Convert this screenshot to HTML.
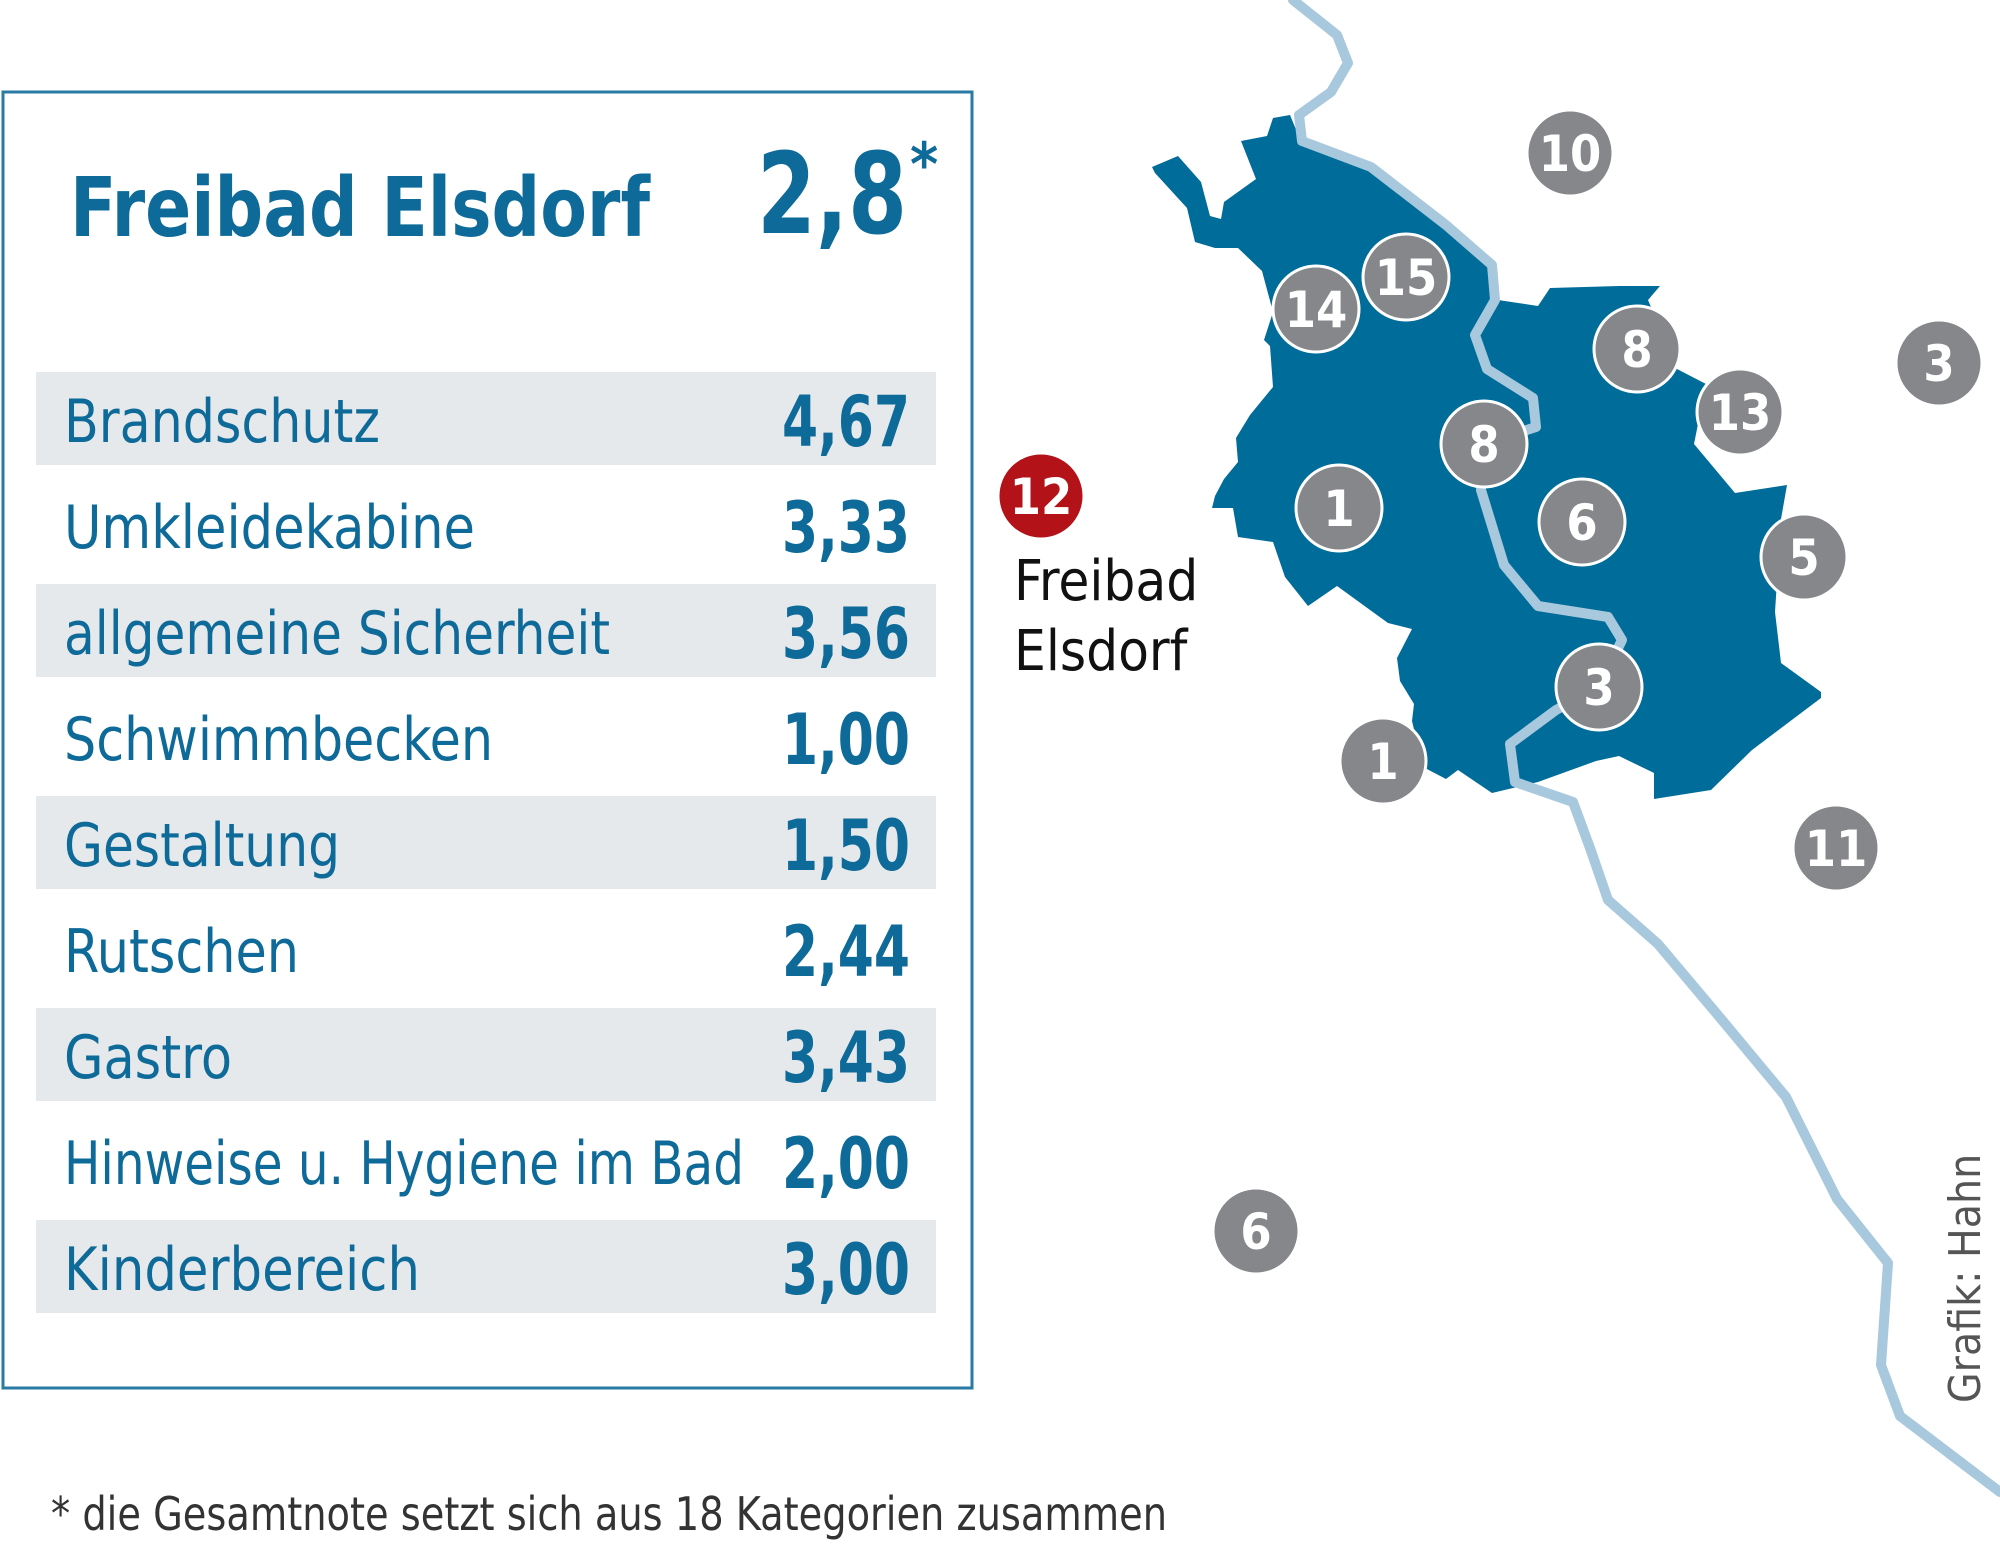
<!DOCTYPE html>
<html><head><meta charset="utf-8"><style>
html,body{margin:0;padding:0;background:#fff;}
svg{display:block;}
.t{font-family:"DejaVu Sans Condensed","Liberation Sans Narrow","Liberation Sans",sans-serif;}
</style></head><body>
<svg width="2000" height="1556" viewBox="0 0 2000 1556" xmlns="http://www.w3.org/2000/svg">
<rect x="3" y="92" width="969" height="1296" fill="#fff" stroke="#2a7aa3" stroke-width="3"/>
<g fill="#e6e9ec">
<rect x="36" y="372" width="900" height="93"/>
<rect x="36" y="584" width="900" height="93"/>
<rect x="36" y="796" width="900" height="93"/>
<rect x="36" y="1008" width="900" height="93"/>
<rect x="36" y="1220" width="900" height="93"/>
</g>
<g class="t" fill="#0e6a98">
<text x="70" y="236" font-size="82" font-weight="bold" textLength="580" lengthAdjust="spacingAndGlyphs">Freibad Elsdorf</text>
<text x="757" y="233" font-size="112" font-weight="bold" textLength="150" lengthAdjust="spacingAndGlyphs">2,8</text>
<text x="910" y="185" font-size="60" font-weight="bold">*</text>
<g font-size="60" lengthAdjust="spacingAndGlyphs">
<text x="64" y="442" textLength="316" lengthAdjust="spacingAndGlyphs">Brandschutz</text>
<text x="64" y="548" textLength="411" lengthAdjust="spacingAndGlyphs">Umkleidekabine</text>
<text x="64" y="654" textLength="546" lengthAdjust="spacingAndGlyphs">allgemeine Sicherheit</text>
<text x="64" y="760" textLength="429" lengthAdjust="spacingAndGlyphs">Schwimmbecken</text>
<text x="64" y="866" textLength="276" lengthAdjust="spacingAndGlyphs">Gestaltung</text>
<text x="64" y="972" textLength="235" lengthAdjust="spacingAndGlyphs">Rutschen</text>
<text x="64" y="1078" textLength="168" lengthAdjust="spacingAndGlyphs">Gastro</text>
<text x="64" y="1184" textLength="680" lengthAdjust="spacingAndGlyphs">Hinweise u. Hygiene im Bad</text>
<text x="64" y="1290" textLength="356" lengthAdjust="spacingAndGlyphs">Kinderbereich</text>
</g>
<g font-size="70" font-weight="bold">
<text x="782" y="446" textLength="128" lengthAdjust="spacingAndGlyphs">4,67</text>
<text x="782" y="552" textLength="128" lengthAdjust="spacingAndGlyphs">3,33</text>
<text x="782" y="658" textLength="128" lengthAdjust="spacingAndGlyphs">3,56</text>
<text x="782" y="764" textLength="128" lengthAdjust="spacingAndGlyphs">1,00</text>
<text x="782" y="870" textLength="128" lengthAdjust="spacingAndGlyphs">1,50</text>
<text x="782" y="976" textLength="128" lengthAdjust="spacingAndGlyphs">2,44</text>
<text x="782" y="1082" textLength="128" lengthAdjust="spacingAndGlyphs">3,43</text>
<text x="782" y="1188" textLength="128" lengthAdjust="spacingAndGlyphs">2,00</text>
<text x="782" y="1294" textLength="128" lengthAdjust="spacingAndGlyphs">3,00</text>
</g>
</g>
<text class="t" x="51" y="1530" font-size="46" fill="#333" textLength="1116" lengthAdjust="spacingAndGlyphs">* die Gesamtnote setzt sich aus 18 Kategorien zusammen</text>

<path fill="#006c99" d="M1290,115 L1302,144 L1371,167 L1446,225 L1492,265 L1498,300 L1538,306 L1550,288 L1619,286 L1660,286 L1648,300 L1677,369 L1706,384 L1694,444 L1735,493 L1787,485 L1781,519 L1775,612 L1781,663 L1821,692 L1821,698 L1752,750 L1711,790 L1654,799 L1654,773 L1619,756 L1596,761 L1538,782 L1492,793 L1458,770 L1446,779 L1423,767 L1412,721 L1414,704 L1400,681 L1397,658 L1412,629 L1388,623 L1337,586 L1308,606 L1285,577 L1273,542 L1238,537 L1233,508 L1212,508 L1215,496 L1224,479 L1238,462 L1236,438 L1250,415 L1273,387 L1270,346 L1264,340 L1273,312 L1262,271 L1238,248 L1215,248 L1195,242 L1187,208 L1155,173 L1152,167 L1178,156 L1201,182 L1210,216 L1221,219 L1224,202 L1256,179 L1241,141 L1267,136 L1273,118 Z"/>
<path fill="none" stroke="#a8c8de" stroke-width="10" stroke-linejoin="round" stroke-linecap="round" d="M1293,0 L1337,35 L1348,63 L1331,92 L1299,115 L1302,141 L1371,167 L1446,225 L1492,265 L1495,300 L1475,335 L1487,369 L1533,398 L1536,427 L1484,444 L1481,490 L1504,565 L1538,606 L1608,617 L1622,640 L1599,687 L1556,710 L1510,744 L1515,782 L1573,802 L1590,848 L1608,900 L1658,944 L1722,1020 L1786,1097 L1837,1199 L1888,1263 L1881,1365 L1900,1416 L2000,1492"/>

<g class="t" font-weight="bold" font-size="50" text-anchor="middle" fill="#fff">
<g stroke="#fff" stroke-width="3" fill="#85878a">
<circle cx="1570" cy="153" r="43"/>
<circle cx="1406" cy="277" r="43"/>
<circle cx="1316" cy="309" r="43"/>
<circle cx="1637" cy="349" r="43"/>
<circle cx="1939" cy="363" r="43"/>
<circle cx="1740" cy="412" r="43"/>
<circle cx="1484" cy="444" r="43"/>
<circle cx="1339" cy="508" r="43"/>
<circle cx="1582" cy="522" r="43"/>
<circle cx="1804" cy="557" r="43"/>
<circle cx="1599" cy="687" r="43"/>
<circle cx="1383" cy="761" r="43"/>
<circle cx="1836" cy="848" r="43"/>
<circle cx="1256" cy="1231" r="43"/>
<circle cx="1041" cy="496" r="43" fill="#b31218"/>
</g>
<text x="1570" y="171">10</text>
<text x="1406" y="295">15</text>
<text x="1316" y="327">14</text>
<text x="1637" y="367">8</text>
<text x="1939" y="381">3</text>
<text x="1740" y="430">13</text>
<text x="1484" y="462">8</text>
<text x="1339" y="526">1</text>
<text x="1582" y="540">6</text>
<text x="1804" y="575">5</text>
<text x="1599" y="705">3</text>
<text x="1383" y="779">1</text>
<text x="1836" y="866">11</text>
<text x="1256" y="1249">6</text>
<text x="1041" y="514">12</text>
</g>
<g class="t" font-size="56" fill="#111">
<text x="1014" y="600">Freibad</text>
<text x="1014" y="670">Elsdorf</text>
</g>
<text class="t" x="0" y="0" font-size="44" fill="#555" transform="translate(1980,1403) rotate(-90)">Grafik: Hahn</text>
</svg>
</body></html>
